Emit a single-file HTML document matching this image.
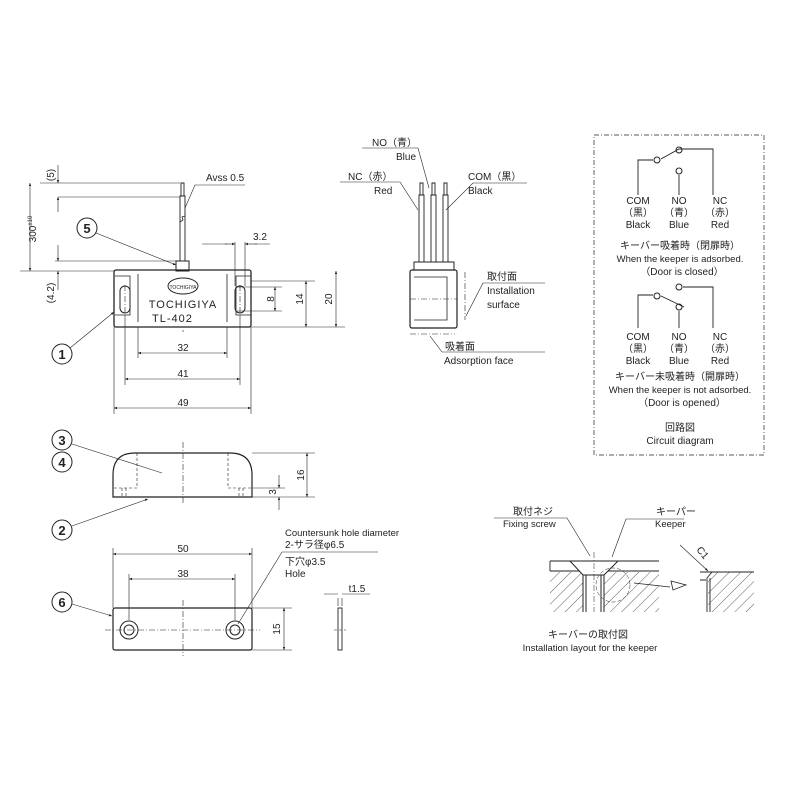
<!DOCTYPE html>
<html><head><meta charset="utf-8"><style>
body{margin:0;background:#fff}
svg{display:block}
text{font-family:"Liberation Sans","Noto Sans CJK JP",sans-serif;fill:#222}
</style></head><body>
<svg width="800" height="800" viewBox="0 0 800 800" xmlns="http://www.w3.org/2000/svg">
<defs>
<marker id="a" viewBox="0 0 10 10" refX="10" refY="5" markerWidth="7" markerHeight="5" orient="auto-start-reverse"><path d="M0,1 L10,5 L0,9z" fill="#222"/></marker>
<pattern id="h" width="8" height="8" patternUnits="userSpaceOnUse" patternTransform="rotate(45)"><line x1="0" y1="0" x2="0" y2="8" stroke="#333" stroke-width="0.8"/></pattern>
</defs>
<g stroke="#222" fill="none" stroke-width="1">
<!-- main sensor -->
<rect x="114" y="270" width="137" height="57" rx="2" stroke-width="1.3"/>
<path d="M115,276 H130 V315 H115 M251,276 H236 V315 H251" stroke-width="0.8"/>
<path d="M138,274 V322 M227,274 V322" stroke-width="0.8"/>
<rect x="120" y="286" width="10" height="27" rx="5"/>
<rect x="235" y="286" width="10" height="27" rx="5"/>
<ellipse cx="183" cy="286" rx="15" ry="8"/>
<rect x="176" y="261" width="13" height="10"/>
<path d="M180,261 V196 H185 V261 M181,196 V183 H184 V196" stroke-width="0.9"/>
<path d="M180,222 l3,-2 l-1,-3 l3,-1" stroke-width="0.8"/>
<!-- dims main -->
<g stroke-width="0.6">
<path d="M20,271 H114 M40,183 H180 M58,197 H180 M55,261 H176"/>
<line x1="30" y1="183" x2="30" y2="271" marker-start="url(#a)" marker-end="url(#a)"/>
<line x1="58" y1="165" x2="58" y2="183" marker-end="url(#a)"/><line x1="58" y1="212" x2="58" y2="197" marker-end="url(#a)"/>
<line x1="58" y1="245" x2="58" y2="261" marker-end="url(#a)"/><line x1="58" y1="290" x2="58" y2="271" marker-end="url(#a)"/>
<path d="M138,327 V358 M227,327 V358 M125,315 V385 M240,315 V385 M114,327 V414 M251,327 V414"/>
<line x1="138" y1="353" x2="227" y2="353" marker-start="url(#a)" marker-end="url(#a)"/>
<line x1="125" y1="379" x2="240" y2="379" marker-start="url(#a)" marker-end="url(#a)"/>
<line x1="114" y1="408" x2="251" y2="408" marker-start="url(#a)" marker-end="url(#a)"/>
<path d="M237,287 H282 M237,311 H282 M251,281 H315 M251,327 H345 M235,242 V286 M245,242 V286 M202,244 H227 M255,244 H270"/>
<line x1="225" y1="244" x2="235" y2="244" marker-end="url(#a)"/><line x1="257" y1="244" x2="245" y2="244" marker-end="url(#a)"/>
<line x1="275" y1="287" x2="275" y2="311" marker-start="url(#a)" marker-end="url(#a)"/>
<line x1="306" y1="281" x2="306" y2="327" marker-start="url(#a)" marker-end="url(#a)"/>
<line x1="336" y1="271" x2="336" y2="327" marker-start="url(#a)" marker-end="url(#a)"/>
<path d="M183,332 V330 M125,285 V314 M240,285 V314" stroke-dasharray="6,2,1,2"/>
<path d="M185,208 L195,185 H245"/>
<line x1="96" y1="233" x2="176" y2="265" marker-end="url(#a)"/>
<line x1="70" y1="348" x2="114" y2="312" marker-end="url(#a)"/>
</g>
<circle cx="87" cy="228" r="10"/><circle cx="62" cy="354" r="10"/>
<!-- side view wires -->
<rect x="410" y="270" width="47" height="58" rx="2" stroke-width="1.2"/>
<path d="M414,277 H447 V320 H414" stroke-width="0.8"/>
<rect x="414" y="262" width="40" height="8"/>
<path d="M419,262 V195 H424 V262 M431,262 V195 H436 V262 M443,262 V195 H448 V262 M420,195 V183 H423 V195 M432,195 V183 H435 V195 M444,195 V183 H447 V195" stroke-width="0.9"/>
<path d="M410,299 H457 M465,272 V320 M410,334 H455" stroke-width="0.6" stroke-dasharray="6,2,1,2"/>
<g stroke-width="0.6">
<path d="M340,182 H400 L418,210 M362,148 H418 L429,188 M527,183 H473 L446,210"/>
<path d="M483,283 H545 M483,283 L466,316 M442,352 H545 M442,352 L430,336"/>
</g>
<!-- circuit box -->
<rect x="594" y="135" width="170" height="320" stroke-width="0.7" stroke-dasharray="5,2,1,2"/>
<path d="M638,195 V160 H653 M661,159 L679,149 H713 V195 M679,175 V195" stroke-width="0.9"/>
<circle cx="657" cy="160" r="3"/><circle cx="679" cy="150" r="3"/><circle cx="679" cy="171" r="3"/>
<path d="M638,328 V295 H653 M661,296 L684,307 M679,311 V328 M683,287 H713 V328" stroke-width="0.9"/>
<circle cx="657" cy="296" r="3"/><circle cx="679" cy="287" r="3"/><circle cx="679" cy="307" r="3"/>
<!-- keeper side -->
<path d="M113,497 V475 Q113,453 135,453 H230 Q252,453 252,475 V497 Z" stroke-width="1.2"/>
<path d="M137,453 V488 H113 M228,453 V488 H252 M122,488 V497 M126,488 V497 M239,488 V497 M243,488 V497" stroke-width="0.6" stroke-dasharray="3,2"/>
<path d="M183,442 V505" stroke-width="0.6" stroke-dasharray="6,2,1,2"/>
<g stroke-width="0.6">
<path d="M252,453 H315 M252,497 H315 M252,488 H285 M252,497"/>
<line x1="307" y1="453" x2="307" y2="497" marker-start="url(#a)" marker-end="url(#a)"/>
<line x1="279" y1="475" x2="279" y2="488" marker-end="url(#a)"/><line x1="279" y1="510" x2="279" y2="497" marker-end="url(#a)"/>
<line x1="72" y1="444" x2="162" y2="473"/>
<line x1="72" y1="526" x2="148" y2="499" marker-end="url(#a)"/>
<line x1="72" y1="604" x2="112" y2="616" marker-end="url(#a)"/>
</g>
<circle cx="62" cy="440" r="10"/><circle cx="62" cy="462" r="10"/><circle cx="62" cy="530" r="10"/><circle cx="62" cy="602" r="10"/>
<!-- plate -->
<rect x="113" y="608" width="139" height="42" rx="2" stroke-width="1.2"/>
<circle cx="129" cy="630" r="9"/><circle cx="129" cy="630" r="5"/>
<circle cx="235" cy="630" r="9"/><circle cx="235" cy="630" r="5"/>
<path d="M105,630 H260 M183,600 V656" stroke-width="0.6" stroke-dasharray="6,2,1,2"/>
<g stroke-width="0.6">
<path d="M113,608 V548 M252,608 V548 M129,620 V574 M235,620 V574 M252,650 H292 M252,608 H292"/>
<line x1="113" y1="554" x2="252" y2="554" marker-start="url(#a)" marker-end="url(#a)"/>
<line x1="129" y1="579" x2="235" y2="579" marker-start="url(#a)" marker-end="url(#a)"/>
<line x1="284" y1="608" x2="284" y2="650" marker-start="url(#a)" marker-end="url(#a)"/>
<path d="M378,552 H282 L238,624"/>
<path d="M338,598 V606 M342,598 V606 M324,594 H338 M342,594 H370"/>
<path d="M334,630 H346" stroke-dasharray="3,2"/>
</g>
<rect x="338" y="608" width="4" height="42" stroke-width="0.9"/>
<!-- installation layout -->
<rect x="550" y="572" width="109" height="40" fill="url(#h)" stroke="none"/>
<rect x="583" y="572" width="21" height="40" fill="#fff" stroke="none"/>
<path d="M550,561 H659 M550,571 H659 M550,561 V571" stroke-width="0.9"/>
<path d="M570,561 L583,575 H604 L618,561 Z" fill="#fff"/>
<path d="M583,575 V612 M604,575 V612 M586,575 V612 M601,575 V612"/>
<path d="M594,552 V612" stroke-width="0.5" stroke-dasharray="6,2,1,2"/>
<circle cx="613" cy="585" r="17" stroke-width="0.5" stroke-dasharray="4,2"/>
<path d="M634,583 L670,587 M671,581 L686,585 L673,590 Z" stroke-width="0.8" fill="#fff"/>
<rect x="708" y="572" width="46" height="40" fill="url(#h)" stroke="none"/>
<path d="M700,572 H754 M700,580 H706 M707,578 V612 M710,578 V612 M707,578 L712,572" stroke-width="0.9"/>
<g stroke-width="0.6">
<path d="M494,518 H567 L590,556 M626,519 H684 M626,519 L612,557"/>
<line x1="680" y1="545" x2="708" y2="571" marker-end="url(#a)"/>
</g>
</g>
<g font-size="10">
<text x="206" y="181" font-size="10">Avss 0.5</text>
<text x="87" y="233" text-anchor="middle" font-size="13" font-weight="bold">5</text>
<text x="62" y="359" text-anchor="middle" font-size="13" font-weight="bold">1</text>
<text x="62" y="445" text-anchor="middle" font-size="13" font-weight="bold">3</text>
<text x="62" y="467" text-anchor="middle" font-size="13" font-weight="bold">4</text>
<text x="62" y="535" text-anchor="middle" font-size="13" font-weight="bold">2</text>
<text x="62" y="607" text-anchor="middle" font-size="13" font-weight="bold">6</text>
<text transform="translate(54,175) rotate(-90)" text-anchor="middle">(5)</text>
<text transform="translate(36,229) rotate(-90)" text-anchor="middle">300<tspan font-size="6" dy="-4">±10</tspan></text>
<text transform="translate(54,293) rotate(-90)" text-anchor="middle">(4.2)</text>
<text x="253" y="240">3.2</text>
<text transform="translate(274,299) rotate(-90)" text-anchor="middle">8</text>
<text transform="translate(303,299) rotate(-90)" text-anchor="middle">14</text>
<text transform="translate(332,299) rotate(-90)" text-anchor="middle">20</text>
<text x="183" y="351" text-anchor="middle">32</text>
<text x="183" y="377" text-anchor="middle">41</text>
<text x="183" y="406" text-anchor="middle">49</text>
<text x="183" y="308" text-anchor="middle" font-size="11" letter-spacing="1">TOCHIGIYA</text>
<text x="152" y="322" font-size="11" letter-spacing="1">TL-402</text>
<text x="183" y="289" text-anchor="middle" font-size="5">TOCHIGIYA</text>
<text x="372" y="146">NO（青）</text>
<text x="396" y="160">Blue</text>
<text x="348" y="180">NC（赤）</text>
<text x="374" y="194">Red</text>
<text x="468" y="180">COM（黒）</text>
<text x="468" y="194">Black</text>
<text x="487" y="280">取付面</text>
<text x="487" y="294">Installation</text>
<text x="487" y="308">surface</text>
<text x="445" y="350">吸着面</text>
<text x="444" y="364">Adsorption face</text>
<g text-anchor="middle">
<text x="638" y="204">COM</text><text x="638" y="216">（黒）</text><text x="638" y="228">Black</text>
<text x="679" y="204">NO</text><text x="679" y="216">（青）</text><text x="679" y="228">Blue</text>
<text x="720" y="204">NC</text><text x="720" y="216">（赤）</text><text x="720" y="228">Red</text>
<text x="680" y="249">キーバー吸着時（閉扉時）</text>
<text x="680" y="262" font-size="9.5">When the keeper is adsorbed.</text>
<text x="682" y="275">（Door is closed）</text>
<text x="638" y="340">COM</text><text x="638" y="352">（黒）</text><text x="638" y="364">Black</text>
<text x="679" y="340">NO</text><text x="679" y="352">（青）</text><text x="679" y="364">Blue</text>
<text x="720" y="340">NC</text><text x="720" y="352">（赤）</text><text x="720" y="364">Red</text>
<text x="680" y="380">キーバー未吸着時（開扉時）</text>
<text x="680" y="393" font-size="9.5">When the keeper is not adsorbed.</text>
<text x="682" y="406">（Door is opened）</text>
<text x="680" y="431">回路図</text>
<text x="680" y="444">Circuit diagram</text>
<text x="183" y="552">50</text>
<text x="183" y="577">38</text>
<text x="357" y="592">t1.5</text>
<text x="588" y="638">キーバーの取付図</text>
<text x="590" y="651" font-size="9.5">Installation layout for the keeper</text>
</g>
<text transform="translate(304,475) rotate(-90)" text-anchor="middle">16</text>
<text transform="translate(276,492) rotate(-90)" text-anchor="middle">3</text>
<text transform="translate(280,629) rotate(-90)" text-anchor="middle">15</text>
<text x="285" y="536" font-size="9.5">Countersunk hole diameter</text>
<text x="285" y="548">2-サラ径φ6.5</text>
<text x="285" y="565">下穴φ3.5</text>
<text x="285" y="577">Hole</text>
<text x="513" y="515">取付ネジ</text>
<text x="503" y="527" font-size="9.5">Fixing screw</text>
<text x="656" y="515">キーパー</text>
<text x="655" y="527" font-size="9.5">Keeper</text>
<text transform="translate(696,550) rotate(50)" font-size="10">C1</text>
</g>
</svg>
</body></html>
